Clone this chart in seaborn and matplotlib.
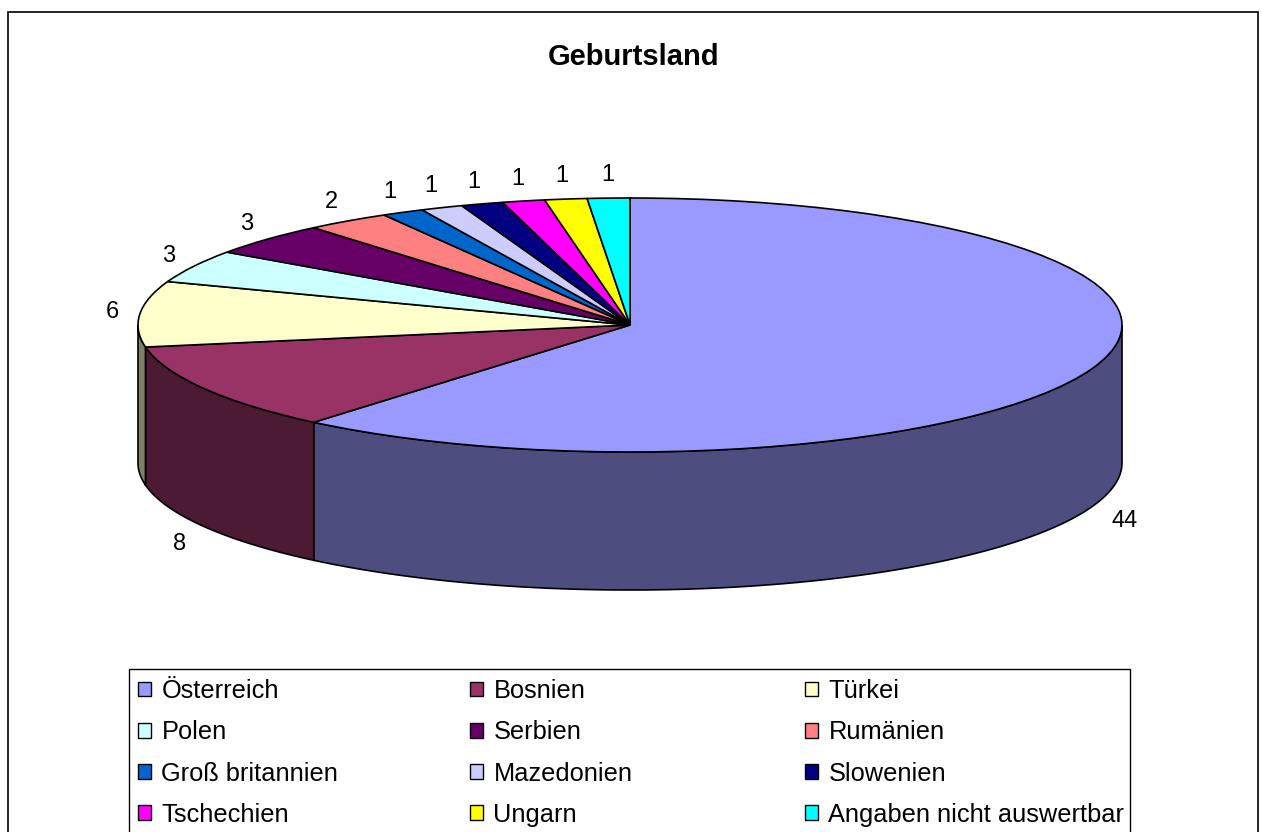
import numpy as np
import matplotlib
matplotlib.use("Agg")
import matplotlib.pyplot as plt
from matplotlib.patches import Polygon, Patch, Rectangle
from matplotlib.colors import to_rgb
import seaborn as sns

countries = ['Österreich', 'Bosnien', 'Türkei', 'Polen', 'Serbien', 'Rumänien',
             'Groß britannien', 'Mazedonien', 'Slowenien', 'Tschechien', 'Ungarn',
             'Angaben nicht auswertbar']
counts = [44, 8, 6, 3, 3, 2, 1, 1, 1, 1, 1, 1]
colors = ['#9999FF', '#993366', '#FFFFCC', '#CCFFFF', '#660066', '#FF8080',
          '#0066CC', '#CCCCFF', '#000080', '#FF00FF', '#FFFF00', '#00FFFF']

sns.set_style("white")
plt.rcParams['font.family'] = ['Liberation Sans', 'DejaVu Sans']
plt.rcParams['text.color'] = 'black'

W, H = 1262, 832
fig = plt.figure(figsize=(W / 100, H / 100), dpi=100)
ax = fig.add_axes([0, 0, 1, 1])

# pie geometry (pixels): centre, radii, depth
cx, cy, rx, ry, depth = 630, 325, 492, 127, 138
d = depth / ry

total = sum(counts)
cum = np.concatenate([[0], np.cumsum(counts)])
starts = 90 - cum[:-1] / total * 360
ends = 90 - cum[1:] / total * 360

# side walls (front half only: -180..0 deg)
for i in range(len(counts)):
    lo = max(ends[i], -180)
    hi = min(starts[i], 0)
    if lo >= hi:
        continue
    t = np.radians(np.linspace(lo, hi, 100))
    top = np.column_stack([np.cos(t), np.sin(t)])
    bot = np.column_stack([np.cos(t[::-1]), np.sin(t[::-1]) - d])
    side = tuple(0.5 * c for c in to_rgb(colors[i]))
    ax.add_patch(Polygon(np.vstack([top, bot]), closed=True, facecolor=side,
                         edgecolor='black', linewidth=1.2, zorder=1))

wedges, _ = ax.pie(counts, colors=colors, startangle=90, counterclock=False,
                   radius=1, center=(0, 0),
                   wedgeprops=dict(edgecolor='black', linewidth=1.2))
for w in wedges:
    w.set_zorder(2)

ax.set_aspect('auto')
ax.set_xlim(-cx / rx, (W - cx) / rx)
ax.set_ylim((cy - H) / ry, cy / ry)
ax.axis('off')

# data labels
for i, v in enumerate(counts):
    mid = np.radians((starts[i] + ends[i]) / 2)
    x, y = np.cos(mid), np.sin(mid)
    txt = str(v)
    ox = np.cos(mid) * (15 + 5 * len(txt))
    oy = np.sin(mid) * 16.5
    if y < 0:
        y -= d
        oy -= 4.5
    ax.annotate(txt, (x, y), xytext=(ox, oy), textcoords='offset points',
                ha='center', va='center', fontsize=17, color='black')

fig.text(634 / W, 1 - 57 / H, 'Geburtsland', ha='center', va='center',
         fontsize=21, fontweight='bold', color='black')

# outer border and legend box
fig.patches.append(Rectangle((8 / W, -0.01), (1258 - 8) / W, (H - 12) / H + 0.01,
                             transform=fig.transFigure, fill=False,
                             edgecolor='black', linewidth=1.2))
fig.patches.append(Rectangle((129 / W, -0.01), (1130 - 129) / W, (H - 669) / H + 0.01,
                             transform=fig.transFigure, fill=False,
                             edgecolor='black', linewidth=1))

handles = [Patch(facecolor=c, edgecolor='black', linewidth=1) for c in colors]
col_x = [138, 470, 805]
for j in range(3):
    idx = list(range(j, len(countries), 3))
    fig.legend([handles[k] for k in idx], [countries[k] for k in idx],
               loc='upper left', bbox_to_anchor=(col_x[j] / W, 1 - 679 / H),
               frameon=False, fontsize=18.3, handlelength=0.52, handleheight=0.52,
               handletextpad=0.4, labelspacing=0.68, borderpad=0, borderaxespad=0,
               labelcolor='black')

fig.savefig('out.png', dpi=100)
